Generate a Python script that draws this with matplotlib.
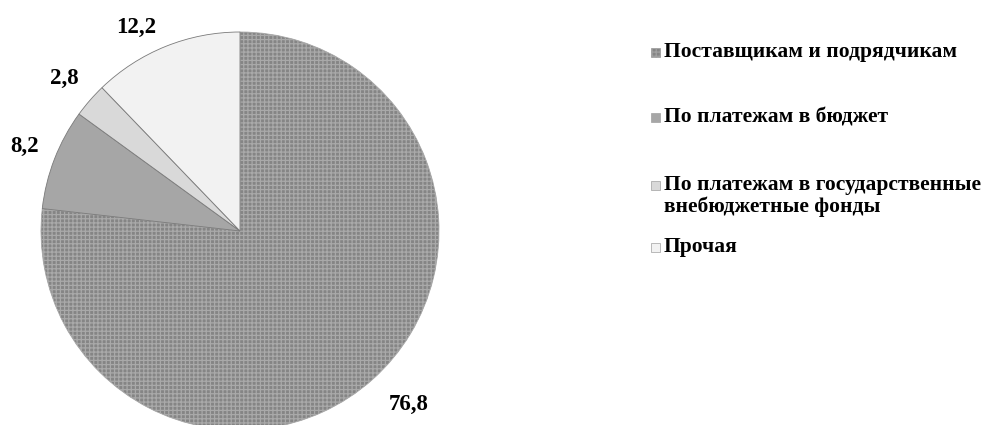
import matplotlib.pyplot as plt
from matplotlib.patches import Rectangle

plt.rcParams['font.family'] = ['Liberation Serif', 'DejaVu Serif']
plt.rcParams['hatch.linewidth'] = 0.9

categories = ["Поставщикам и подрядчикам",
              "По платежам в бюджет",
              "По платежам в государственные\nвнебюджетные фонды",
              "Прочая"]
values = [76.8, 8.2, 2.8, 12.2]
colors = ["#858585", "#a6a6a6", "#d9d9d9", "#f2f2f2"]
labels = [f"{v:.1f}".replace(".", ",") for v in values]

fig = plt.figure(figsize=(9.83, 4.25), dpi=100)
ax = fig.add_axes([0, 0, 1, 1])

wedges, texts = ax.pie(values, colors=colors, labels=labels, startangle=90,
                       counterclock=False, center=(240, 194), radius=199,
                       labeldistance=1.17,
                       wedgeprops=dict(edgecolor="#7a7a7a", linewidth=0.6),
                       textprops=dict(fontsize=16.5, fontweight="bold"))
wedges[0].set_hatch("++++")
wedges[0].set_edgecolor("#a9a9a9")

# small nudges so labels sit where the original puts them
nudges = [(14, 0), (2, 0), (0, 0), (-17, -12)]
for t, (dx, dy) in zip(texts, nudges):
    x, y = t.get_position()
    t.set_position((x + dx, y + dy))
    t.set_horizontalalignment("center")
    t.set_verticalalignment("center")

ax.set_xlim(0, 983)
ax.set_ylim(0, 425)
ax.set_aspect("equal")
ax.axis("off")

# legend
leg_y = [373, 308, 240, 178]
for i, (c, lab, y) in enumerate(zip(colors, categories, leg_y)):
    ax.add_patch(Rectangle((651, y - 4.5), 9, 9, facecolor=c, edgecolor="#a0a0a0",
                           linewidth=0.5, hatch="++++" if i == 0 else None))
    if "\n" in lab:
        ax.text(664, y + 10, lab, fontsize=15.5, fontweight="bold", va="top",
                ha="left", linespacing=1.1)
    else:
        ax.text(664, y, lab, fontsize=15.5, fontweight="bold", va="center", ha="left")

fig.savefig("out.png", dpi=100)
